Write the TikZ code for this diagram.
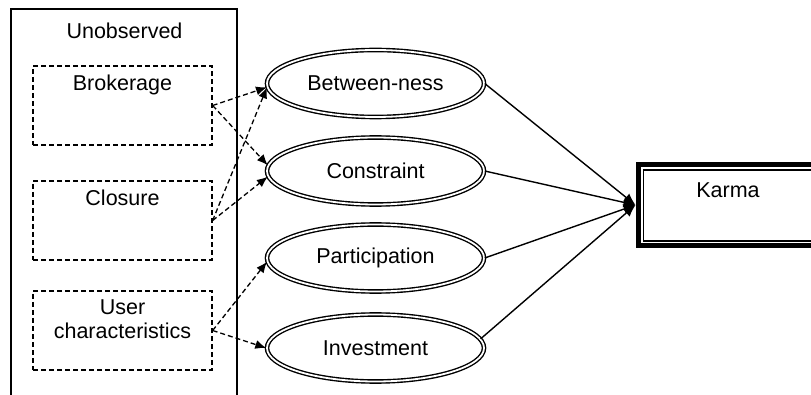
\documentclass[tikz,border=0pt]{standalone}
\usepackage{fontspec}
\setmainfont{Liberation Sans}
\usetikzlibrary{shapes.geometric}
\usetikzlibrary{calc}
\usetikzlibrary{arrows.meta}

\tikzset{
  hidden/.style={draw, dash pattern=on 5pt off 3pt, line width=1.3pt,
    minimum width=179pt, minimum height=79pt, inner sep=0pt},
  latent/.style={ellipse, draw, double, double distance=1.8pt, line width=1.4pt,
    minimum width=217pt, minimum height=67pt, inner sep=0pt},
  dasharrow/.style={-{Latex[length=11pt,width=9pt]}, line width=1.3pt,
    dash pattern=on 5pt off 3pt},
  solidarrow/.style={-{Latex[length=12pt,width=10pt]}, line width=1.4pt},
}

\begin{document}
\begin{tikzpicture}[x=1pt, y=-1pt, font=\fontsize{21.5}{24}\selectfont]
  \useasboundingbox (0,0) rectangle (811,395);

  \draw [line width=1.4pt] (11,396) -- (11,9) -- (237,9) -- (237,396);
  \node (unobs) at (124.5,31) {Unobserved};

  \node [hidden, label={[anchor=north, yshift=-6pt]north:Brokerage}] (brok) at (122.5,105.5) {};
  \node [hidden, label={[anchor=north, yshift=-6pt]north:Closure}] (clos) at (122.5,220.5) {};
  \node [hidden, label={[anchor=north, yshift=-6pt, align=center]north:User\\characteristics}] (user) at (122.5,330.5) {};

  \node [latent] (bet) at (375.5,83.5) {Between-ness};
  \node [latent] (con) at (375.5,171) {Constraint};
  \node [latent] (par) at (375.5,258) {Participation};
  \node [latent] (inv) at (375.5,348) {Investment};

  \node [draw, line width=5pt, minimum width=180pt, minimum height=81pt, inner sep=0pt] (karma) at (728,205) {};
  \draw [line width=1.2pt] ($(karma.north west)+(8,8)$) rectangle ($(karma.south east)+(-8,-7)$);
  \node (karmalbl) at (728,190) {Karma};

  \draw [dasharrow] (brok.east) -- (bet.182);
  \draw [dasharrow] (brok.east) -- (con.177);
  \draw [dasharrow] (clos.east) -- (bet.182);
  \draw [dasharrow] (clos.east) -- (con.183);
  \draw [dasharrow] (user.east) -- (par.182);
  \draw [dasharrow] (user.east) -- (inv.west);

  \draw [solidarrow] (bet.east) -- (karma.west);
  \draw [solidarrow] (con.east) -- (karma.west);
  \draw [solidarrow] (par.east) -- (karma.west);
  \draw [solidarrow] (inv.5) -- (karma.west);
\end{tikzpicture}
\end{document}
